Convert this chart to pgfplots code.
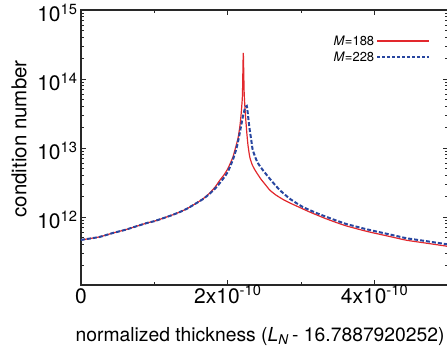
\documentclass[border=0pt]{standalone}
\usepackage{fontspec}
\setmainfont{TeX Gyre Heros}
\usepackage{pgfplots}
\pgfplotsset{compat=1.18}
\definecolor{myred}{RGB}{226,40,45}
\definecolor{myblue}{RGB}{40,70,160}
\definecolor{axgray}{RGB}{40,40,40}
\pgfplotsset{
 redleg/.style={legend image code/.code={\draw[##1] (0pt,0pt) -- (52pt,0pt);}},
 blueleg/.style={legend image code/.code={\draw[##1, dash pattern=on 3pt off 2pt, line width=1.6pt] (0pt,0pt) -- (52pt,0pt);}},
}
\begin{document}
\begin{tikzpicture}
\begin{axis}[
 scale only axis, width=367pt, height=275pt,
 xmin=0, xmax=5, ymode=log, ymin=1.033e11, ymax=1e15,
 axis line style={axgray, line width=1.3pt},
 tick style={axgray, line width=0.8pt},
 tick align=inside,
 major tick length=5pt, minor tick length=3pt,
 xtick={0,2,4}, minor xtick={1,3},
 xticklabels={{0\vphantom{\textsuperscript{-10}}}, {2x10\textsuperscript{-10}}, {4x10\textsuperscript{-10}}},
 ytick={1e12,1e13,1e14,1e15},
 yticklabels={10\textsuperscript{12},10\textsuperscript{13},10\textsuperscript{14},10\textsuperscript{15}},
 minor ytick={2e11,3e11,4e11,5e11,6e11,7e11,8e11,9e11,2e12,3e12,4e12,5e12,6e12,7e12,8e12,9e12,2e13,3e13,4e13,5e13,6e13,7e13,8e13,9e13,2e14,3e14,4e14,5e14,6e14,7e14,8e14,9e14},
 tick label style={font=\fontsize{21}{24}\selectfont},
 xticklabel style={yshift=3pt},
 yticklabel style={yshift=-3pt},
 xlabel={normalized thickness (\textit{L}\textsubscript{\textit{N}}\,- 16.7887920252)},
 ylabel={condition number},
 xlabel style={font=\fontsize{19.3}{22}\selectfont, at={(axis description cs:0.488,-0.186)}, anchor=center},
 ylabel style={font=\fontsize{20.5}{24}\selectfont, at={(axis description cs:-0.169,0.531)}, anchor=center},
 legend style={draw=none, fill=none, at={(axis description cs:0.951,0.915)}, anchor=north east, font=\fontsize{13}{14}\selectfont, inner sep=0pt, row sep=1pt},
 legend cell align=right,
 legend plot pos=right,
]
\addplot[myred, line width=1.2pt, smooth, tension=0.3, redleg] coordinates {
(0,4.65e11) (0.25,5.13e11) (0.435,5.86e11) (0.6,6.5e11) (0.75,7.3e11) (0.898,8.18e11) (1.0,8.7e11)
(1.12,9.6e11) (1.25,1.074e12) (1.347,1.18e12) (1.45,1.33e12) (1.578,1.6e12) (1.67,1.86e12) (1.755,2.23e12)
(1.83,2.74e12) (1.891,3.4e12) (1.95,4.1e12) (2.0,5.0e12) (2.04,6.2e12) (2.07,7.4e12) (2.11,1.05e13) (2.14,1.4e13) (2.163,2.0e13)
(2.178,2.8e13) (2.19,4.0e13) (2.2,6.0e13) (2.211,2.38e14) (2.223,6.3e13) (2.24,3.0e13)
(2.25,2.2e13) (2.259,1.65e13) (2.275,1.1e13) (2.299,7.4e12) (2.33,5.8e12) (2.36,5.0e12) (2.395,4.35e12) (2.45,3.55e12) (2.5,3.05e12)
(2.571,2.46e12) (2.65,2.1e12) (2.75,1.8e12) (2.844,1.6e12) (2.95,1.42e12) (3.116,1.18e12) (3.347,9.35e11)
(3.6,7.5e11) (3.9,6.16e11) (4.2,5.23e11) (4.435,4.6e11) (4.7,4.18e11) (5.0,3.75e11)
};
\addlegendentry{\textit{M}=188}
\addplot[myblue, line width=2pt, dash pattern=on 4pt off 2pt, smooth, tension=0.3, blueleg] coordinates {
(0,4.65e11) (0.25,5.13e11) (0.435,5.86e11) (0.6,6.5e11) (0.75,7.3e11) (0.898,8.18e11) (1.0,8.7e11)
(1.12,9.6e11) (1.25,1.074e12) (1.347,1.18e12) (1.45,1.33e12) (1.578,1.6e12) (1.67,1.84e12) (1.755,2.18e12)
(1.83,2.6e12) (1.891,3.1e12) (1.95,3.75e12) (2.0,4.5e12) (2.068,6.7e12) (2.12,1.0e13) (2.163,1.65e13)
(2.204,2.8e13) (2.235,3.8e13) (2.259,4.07e13) (2.272,3.2e13) (2.285,2.4e13) (2.299,1.82e13)
(2.32,1.3e13) (2.34,9.35e12) (2.4,6.3e12) (2.476,4.8e12) (2.6,3.3e12) (2.707,2.46e12) (2.85,1.82e12)
(3.02,1.4e12) (3.2,1.15e12) (3.347,1.0e12) (3.6,8.0e11) (3.9,6.6e11) (4.2,5.6e11) (4.435,4.92e11)
(4.7,4.47e11) (5.0,4.0e11)
};
\addlegendentry{\textit{M}=228}
\coordinate (SW) at (rel axis cs:0,0);
\coordinate (NE) at (rel axis cs:1,1);
\end{axis}
\pgfresetboundingbox
\path ([shift={(-81pt,-61pt)}]SW) rectangle ([shift={(-1pt,10pt)}]NE);
\end{tikzpicture}
\end{document}
